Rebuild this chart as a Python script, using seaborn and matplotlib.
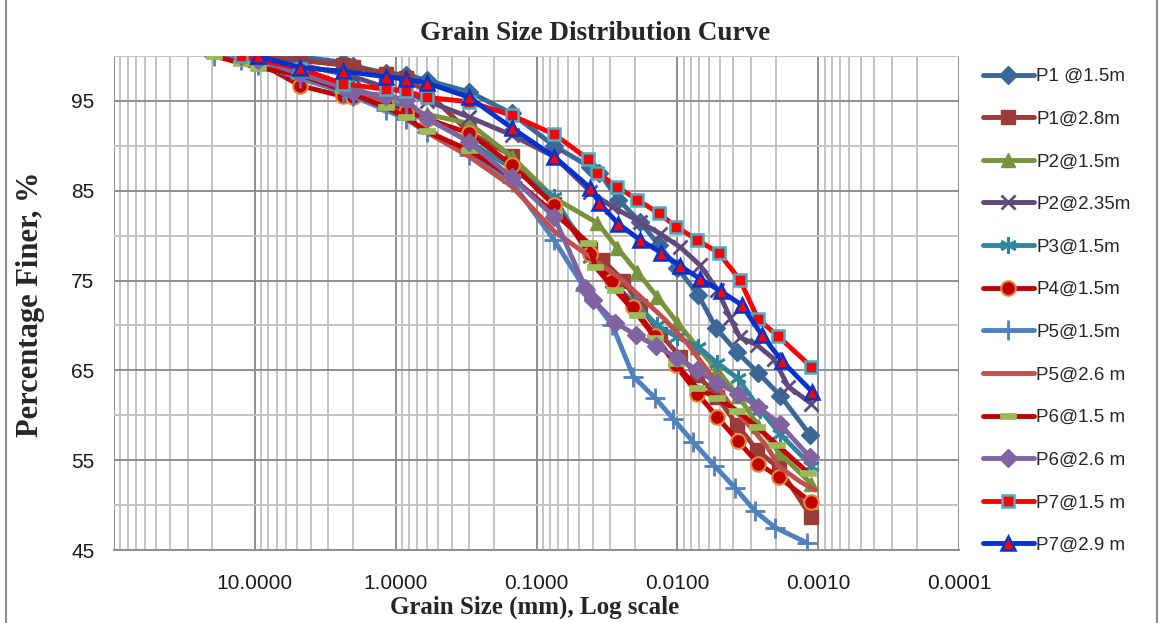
import numpy as np
import pandas as pd
import matplotlib
matplotlib.use("Agg")
import matplotlib.pyplot as plt
import seaborn as sns
from matplotlib.ticker import FixedLocator, NullFormatter, FixedFormatter, LogLocator
from matplotlib.lines import Line2D
from matplotlib.path import Path

# ---------------- data ----------------
labels = ["P1 @1.5m", "P1@2.8m", "P2@1.5m", "P2@2.35m", "P3@1.5m", "P4@1.5m",
          "P5@1.5m", "P5@2.6 m", "P6@1.5 m", "P6@2.6 m", "P7@1.5 m", "P7@2.9 m"]

p1_15_x = [9.5, 4.75, 2.36, 2.0, 1.18, 0.85, 0.6, 0.3, 0.15, 0.075, 0.0414, 0.0357, 0.0262,
           0.0183, 0.0136, 0.0100, 0.0071, 0.0053, 0.00375, 0.00266, 0.00186, 0.00114]
p1_15_y = [100, 99.9, 99.3, 98.9, 98.1, 97.9, 97.3, 96.0, 93.6, 90.0, 87.6, 87.0, 84.0,
           81.5, 79.0, 76.4, 73.4, 69.7, 67.0, 64.7, 62.2, 57.8]

p1_28_x = [12.5, 9.5, 4.75, 2.36, 2.0, 1.18, 0.85, 0.6, 0.3, 0.15, 0.075, 0.0414, 0.034, 0.0242,
           0.0183, 0.0132, 0.0095, 0.0072, 0.0052, 0.00375, 0.00271, 0.00189, 0.00112]
p1_28_y = [100, 100, 99.5, 99.0, 98.8, 98.0, 97.5, 96.0, 91.5, 88.9, 83.5, 78.5, 77.3, 75.0,
           72.2, 69.0, 66.5, 64.5, 62.0, 58.9, 56.1, 54.1, 48.7]

p2_15_x = [12.5, 9.5, 4.75, 2.36, 2.0, 1.18, 0.85, 0.6, 0.3, 0.15, 0.075, 0.0369, 0.0266,
           0.0192, 0.0139, 0.0100, 0.0072, 0.0052, 0.0037, 0.00266, 0.00189, 0.00112]
p2_15_y = [100, 99.2, 98.0, 96.8, 96.5, 95.0, 94.2, 93.5, 92.5, 88.8, 84.2, 81.4, 78.6,
           75.9, 73.2, 70.3, 67.6, 65.0, 62.2, 58.8, 55.8, 52.4]

p2_235_x = [12.5, 9.5, 4.75, 2.36, 2.0, 1.18, 0.85, 0.6, 0.3, 0.15, 0.075, 0.0414, 0.0289,
            0.0183, 0.0132, 0.0095, 0.0069, 0.0052, 0.0042, 0.0036, 0.00271, 0.00207, 0.00163, 0.00112]
p2_235_y = [100, 99.8, 99.0, 98.0, 97.7, 96.5, 96.0, 95.0, 93.2, 91.2, 88.8, 84.9, 83.2,
            81.5, 80.2, 78.7, 76.7, 74.0, 70.8, 68.7, 67.8, 66.3, 63.2, 61.3]

p3_15_x = [12.5, 9.5, 4.75, 2.36, 2.0, 1.18, 0.85, 0.6, 0.3, 0.15, 0.075, 0.0414, 0.0289,
           0.0200, 0.0139, 0.0100, 0.0071, 0.0052, 0.0037, 0.00258, 0.00186, 0.00112]
p3_15_y = [100, 99.5, 98.2, 96.8, 96.4, 95.0, 94.2, 93.0, 90.5, 87.5, 84.3, 77.5, 74.7,
           72.5, 70.0, 68.7, 67.6, 65.8, 64.1, 60.6, 57.9, 54.4]

p4_15_x = [12.5, 9.5, 4.75, 2.36, 2.0, 1.18, 0.85, 0.6, 0.3, 0.15, 0.075, 0.0414, 0.0289,
           0.0205, 0.0143, 0.0103, 0.0072, 0.0052, 0.0037, 0.00266, 0.00189, 0.00112]
p4_15_y = [100, 99.3, 96.7, 95.5, 95.4, 94.5, 93.8, 93.0, 91.4, 87.9, 83.4, 78.0, 75.0,
           72.0, 68.8, 65.6, 62.4, 59.8, 57.1, 54.6, 53.1, 50.3]

p5_15_x = [19.5, 12.5, 9.5, 4.75, 2.36, 2.0, 1.18, 0.85, 0.6, 0.3, 0.15, 0.075, 0.0449, 0.0289,
           0.0205, 0.0143, 0.0107, 0.0077, 0.00547, 0.00388, 0.0028, 0.00202, 0.0012]
p5_15_y = [100, 99.5, 99.0, 97.5, 96.0, 95.5, 94.0, 93.0, 91.5, 89.0, 86.0, 79.5, 74.0, 70.0,
           64.3, 61.9, 59.6, 57.0, 54.4, 51.9, 49.3, 47.5, 45.8]

p5_26_x = [12.5, 4.75, 2.36, 1.18, 0.6, 0.3, 0.15, 0.075, 0.0414, 0.0247, 0.0183, 0.0125,
           0.0085, 0.0061, 0.0042, 0.0029, 0.0023, 0.0019, 0.00134, 0.00105]
p5_26_y = [100, 98.2, 96.4, 94.7, 91.5, 88.8, 85.5, 80.5, 77.6, 75.1, 73.2, 70.8,
           68.0, 65.0, 61.1, 58.4, 56.5, 54.3, 52.6, 51.7]

p6_15_x = [19.5, 12.5, 9.5, 4.75, 2.36, 1.18, 0.85, 0.6, 0.3, 0.15, 0.075, 0.0428, 0.0382,
           0.0275, 0.0192, 0.0143, 0.0103, 0.0072, 0.0052, 0.00375, 0.00271, 0.00195, 0.00118]
p6_15_y = [100, 99.2, 98.7, 97.9, 96.2, 94.3, 93.2, 91.6, 89.5, 86.5, 82.5, 79.2, 76.5,
           73.9, 71.2, 68.6, 65.8, 63.0, 61.9, 60.5, 58.7, 56.7, 53.6]

p6_26_x = [12.5, 9.5, 4.75, 2.36, 2.0, 1.18, 0.85, 0.6, 0.3, 0.15, 0.075, 0.0449, 0.0394,
           0.0275, 0.0195, 0.0141, 0.0100, 0.0072, 0.0052, 0.0037, 0.00266, 0.00186, 0.00114]
p6_26_y = [100, 99.6, 98.0, 96.5, 96.0, 95.6, 95.1, 93.1, 90.4, 86.5, 82.1, 74.2, 72.8,
           70.3, 68.9, 67.7, 66.4, 65.0, 63.6, 62.4, 60.9, 59.0, 55.3]

p7_15_x = [12.5, 4.75, 2.36, 1.18, 0.85, 0.6, 0.3, 0.15, 0.075, 0.0428, 0.0369, 0.0266,
           0.0192, 0.0136, 0.0102, 0.0072, 0.0051, 0.0036, 0.00267, 0.00192, 0.00112]
p7_15_y = [100, 98.6, 96.9, 96.3, 96.1, 95.4, 94.9, 93.4, 91.3, 88.5, 87.0, 85.4,
           84.0, 82.5, 81.0, 79.5, 78.1, 75.1, 70.7, 68.8, 65.4]

p7_29_x = [9.5, 4.75, 2.36, 1.18, 0.85, 0.6, 0.3, 0.15, 0.075, 0.0414, 0.0357, 0.0262,
           0.0183, 0.0130, 0.0095, 0.0069, 0.0049, 0.0035, 0.0025, 0.0018, 0.0011]
p7_29_y = [100, 98.7, 98.3, 97.7, 97.4, 97.0, 95.4, 92.0, 88.8, 85.3, 83.6, 81.3,
           79.5, 78.1, 76.6, 75.2, 73.8, 72.3, 68.9, 66.0, 62.6]

y_ticks = [45, 55, 65, 75, 85, 95]
x_ticks = [10, 1, 0.1, 0.01, 0.001, 0.0001]
x_tick_labels = ["10.0000", "1.0000", "0.1000", "0.0100", "0.0010", "0.0001"]

series_x = [p1_15_x, p1_28_x, p2_15_x, p2_235_x, p3_15_x, p4_15_x,
            p5_15_x, p5_26_x, p6_15_x, p6_26_x, p7_15_x, p7_29_x]
series_y = [p1_15_y, p1_28_y, p2_15_y, p2_235_y, p3_15_y, p4_15_y,
            p5_15_y, p5_26_y, p6_15_y, p6_26_y, p7_15_y, p7_29_y]

# ---------------- styles ----------------
dash_marker = Path([(-1, -0.38), (1, -0.38), (1, 0.38), (-1, 0.38), (-1, -0.38)],
                   [Path.MOVETO, Path.LINETO, Path.LINETO, Path.LINETO, Path.CLOSEPOLY])
styles = [
    dict(color="#3C6898", marker="D", ms=9.5, mfc="#3C6898", mec="#3C6898", mew=1),
    dict(color="#9B3C39", marker="s", ms=9.5, mfc="#9B3C39", mec="#9B3C39", mew=1),
    dict(color="#77933C", marker="^", ms=10.5, mfc="#77933C", mec="#77933C", mew=1),
    dict(color="#604A7B", marker="x", ms=10, mfc="#604A7B", mec="#604A7B", mew=2),
    dict(color="#31859C", marker=(6, 2, 0), ms=12, mfc="#31859C", mec="#31859C", mew=2),
    dict(color="#C00000", marker="o", ms=10.5, mfc="#C00000", mec="#E38A3A", mew=1.5),
    dict(color="#4F81BD", marker="+", ms=14, mfc="#4F81BD", mec="#4F81BD", mew=2),
    dict(color="#C0504D", marker=None, ms=0, mfc="#C0504D", mec="#C0504D", mew=0),
    dict(color="#C00000", marker=dash_marker, ms=11.5, mfc="#9BBB59", mec="#9BBB59", mew=0.5),
    dict(color="#8064A2", marker="D", ms=9.5, mfc="#8064A2", mec="#8064A2", mew=1),
    dict(color="#FF0000", marker="s", ms=8, mfc="#FF0000", mec="#4BACC6", mew=1.8),
    dict(color="#0033CC", marker="^", ms=10.5, mfc="#FF0000", mec="#0033CC", mew=1.8),
]

# ---------------- figure ----------------
sns.set_style("white")
plt.rcParams["font.family"] = ["Liberation Sans", "DejaVu Sans"]

W, H = 1162, 623
fig = plt.figure(figsize=(W / 100, H / 100), dpi=100)
ax = fig.add_axes([114 / W, 1 - 550 / H, (959 - 114) / W, (550 - 56) / H])

for lab, xs, ys, st in zip(labels, series_x, series_y, styles):
    df = pd.DataFrame({"size": xs, "finer": ys})
    sns.lineplot(data=df, x="size", y="finer", ax=ax, estimator=None, sort=False,
                 color=st["color"], linewidth=3.5, label=lab,
                 marker=st["marker"], markersize=st["ms"],
                 markerfacecolor=st["mfc"], markeredgecolor=st["mec"],
                 markeredgewidth=st["mew"], zorder=3)

ax.set_xscale("log")
ax.set_xlim(100, 0.0001)
ax.set_ylim(45, 100)

ax.xaxis.set_major_locator(FixedLocator(x_ticks))
ax.xaxis.set_major_formatter(FixedFormatter(x_tick_labels))
ax.xaxis.set_minor_locator(LogLocator(base=10, subs=np.arange(2, 10), numticks=20))
ax.xaxis.set_minor_formatter(NullFormatter())
ax.yaxis.set_major_locator(FixedLocator(y_ticks))
ax.yaxis.set_minor_locator(FixedLocator([50, 60, 70, 80, 90, 100]))

ax.grid(which="major", axis="both", color="#8E8E8E", linewidth=1.4, zorder=0)
ax.grid(which="minor", axis="both", color="#C4C4C4", linewidth=1.4, zorder=0)
ax.axvline(100, color="#8E8E8E", linewidth=1.4, zorder=0)
ax.set_axisbelow(True)

for s in ["top", "right", "left"]:
    ax.spines[s].set_visible(False)
ax.spines["bottom"].set_color("#8E8E8E")
ax.spines["bottom"].set_linewidth(1.4)

tick_font = ["Liberation Sans Narrow", "Liberation Sans"]
ax.tick_params(axis="x", which="major", length=5, width=1.4, color="#8E8E8E",
               direction="out", pad=12, labelsize=15)
ax.tick_params(axis="x", which="minor", length=0)
ax.tick_params(axis="y", which="both", length=0, pad=14, labelsize=15)
for t in ax.get_xticklabels() + ax.get_yticklabels():
    t.set_family(tick_font)
    t.set_color("#1a1a1a")

ax.set_xlabel("")
ax.set_ylabel("")
serif = ["Liberation Serif", "DejaVu Serif"]
fig.text(535 / W, 1 - 607 / H, "Grain Size (mm), Log scale", family=serif,
         fontweight="bold", fontsize=18, ha="center", va="center")
fig.text(31 / W, 1 - 304 / H, "Percentage Finer, %", family=serif,
         fontweight="bold", fontsize=22, ha="center", va="center", rotation=90)
fig.text(595 / W, 1 - 34 / H, "Grain Size Distribution Curve", family=serif,
         fontweight="bold", fontsize=19.5, ha="center", va="center")

# legend
handles, labs = ax.get_legend_handles_labels()
ax.get_legend().remove()
leg = fig.legend(handles, labs, loc="upper left",
                 bbox_to_anchor=(983 / W, 1 - 68 / H), frameon=False,
                 fontsize=13.5, labelspacing=1.36, handlelength=2.7,
                 handletextpad=0.15, borderaxespad=0, borderpad=0)

# outer chart border
fig.add_artist(Line2D([6 / W, 6 / W], [0, 1], transform=fig.transFigure,
                      color="#8E8E8E", linewidth=1.5))
fig.add_artist(Line2D([1157 / W, 1157 / W], [0, 1], transform=fig.transFigure,
                      color="#8E8E8E", linewidth=1.5))

fig.savefig("out.png", dpi=100)
